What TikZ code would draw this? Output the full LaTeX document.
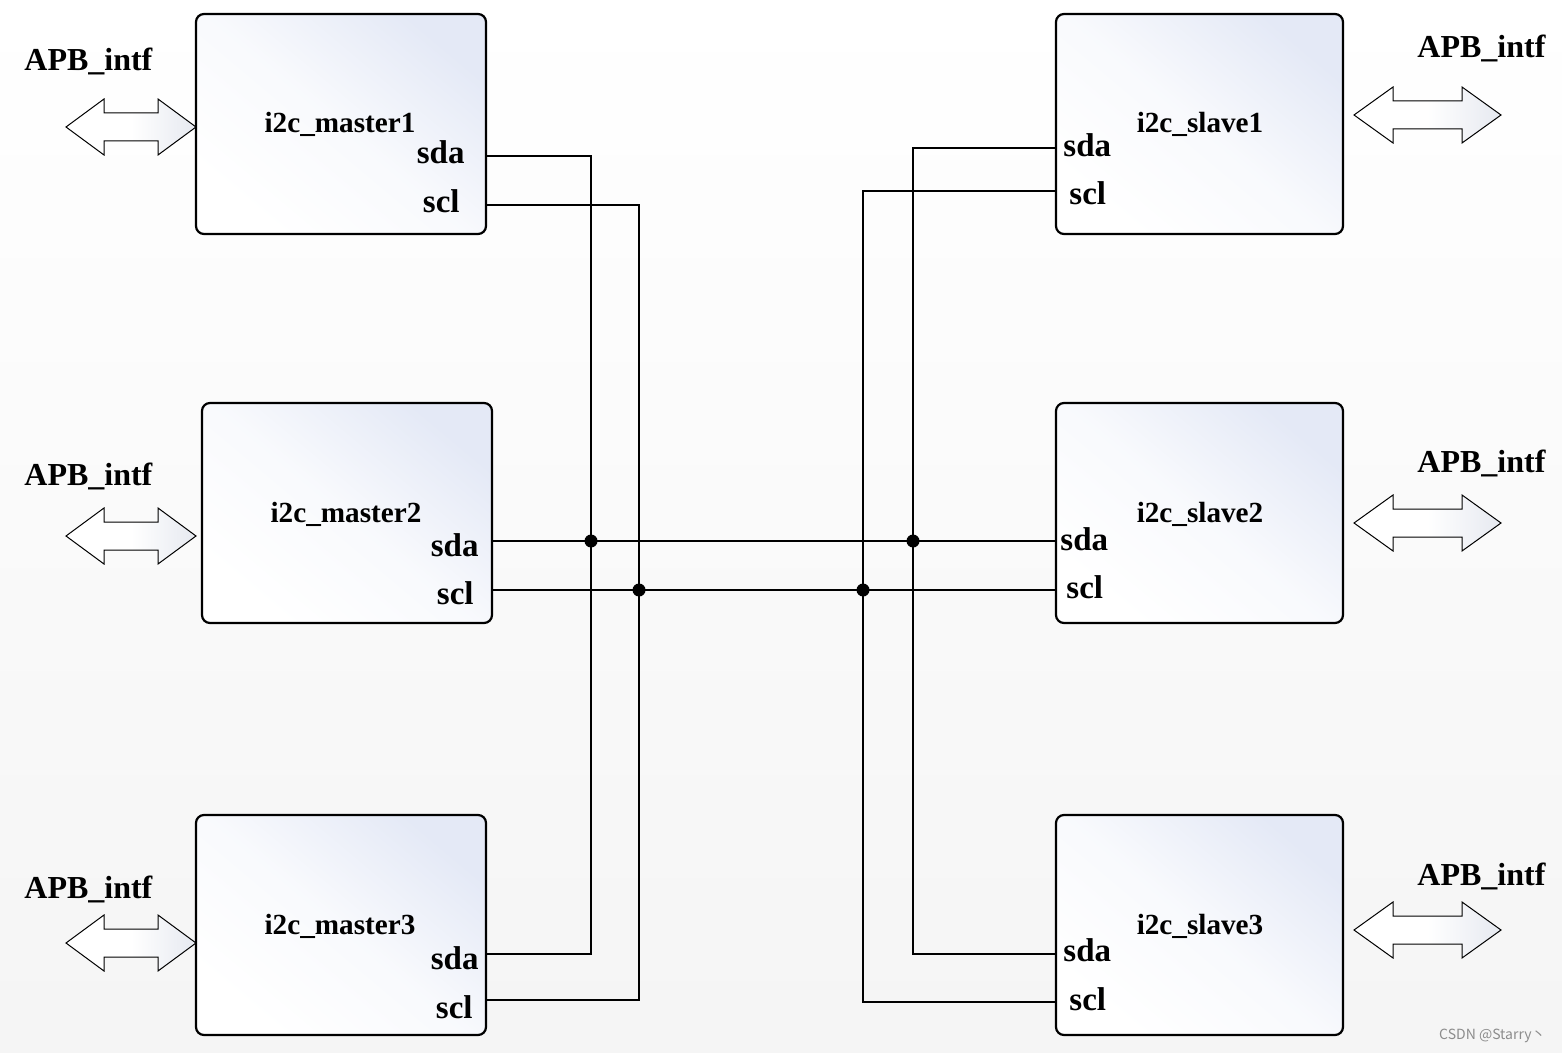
\documentclass[tikz,border=0pt]{standalone}
\usepackage{fontspec}
\setmainfont{Liberation Serif}
\newfontfamily\wmfont{Noto Sans CJK SC}
\begin{document}
\begin{tikzpicture}[x=0.5pt,y=-0.5pt,
  blk/.style={draw=black, line width=1.1pt, rounded corners=4pt, shade,
    top color=boxblue, bottom color=white, middle color=boxblue!25!white, shading angle=-40,
    minimum height=110pt, inner sep=0pt},
  wire/.style={line width=1pt, black},
  dot/.style={circle, fill=black, inner sep=0pt, minimum size=6.5pt},
  title/.style={font=\fontsize{14.6}{16}\selectfont\bfseries, inner sep=0pt},
  port/.style={font=\fontsize{16.5}{18}\selectfont\bfseries, inner sep=0pt},
  apb/.style={font=\fontsize{16}{18}\selectfont\bfseries, inner sep=0pt},
  darr/.style={draw=black, line width=0.5pt, left color=white, right color=arrgray, middle color=white}
]
\definecolor{boxblue}{RGB}{228,233,246}
\definecolor{arrgray}{RGB}{230,233,240}
\useasboundingbox (0,0) rectangle (1562,1053);
\shade[top color=white, bottom color=black!4] (0,0) rectangle (1562,1053);

% double arrows
\newcommand\dblarr[4]{% x0, x1, cy, head length
  \path[darr] (#1,#3) -- ({#1+#4},{#3-28}) -- ({#1+#4},{#3-14}) -- ({#2-#4},{#3-14})
   -- ({#2-#4},{#3-28}) -- (#2,#3) -- ({#2-#4},{#3+28}) -- ({#2-#4},{#3+14})
   -- ({#1+#4},{#3+14}) -- ({#1+#4},{#3+28}) -- cycle;}
\dblarr{66}{196}{127}{38}
\dblarr{66}{196}{536}{38}
\dblarr{66}{196}{943}{38}
\dblarr{1354}{1501}{115}{39}
\dblarr{1354}{1501}{523}{39}
\dblarr{1354}{1501}{930}{39}

% blocks
\node[blk, minimum width=145pt] (m1) at (341,124) {};
\node[blk, minimum width=145pt] (m2) at (347,513) {};
\node[blk, minimum width=145pt] (m3) at (341,925) {};
\node[blk, minimum width=143.5pt] (s1) at (1199.5,124) {};
\node[blk, minimum width=143.5pt] (s2) at (1199.5,513) {};
\node[blk, minimum width=143.5pt] (s3) at (1199.5,925) {};

% titles
\node[title, anchor=base] (tm1) at (340,133) {i2c\_master1};
\node[title, anchor=base] (tm2) at (346,522) {i2c\_master2};
\node[title, anchor=base] (tm3) at (340,934) {i2c\_master3};
\node[title, anchor=base] (ts1) at (1200,133) {i2c\_slave1};
\node[title, anchor=base] (ts2) at (1200,522) {i2c\_slave2};
\node[title, anchor=base] (ts3) at (1200,934) {i2c\_slave3};

% port labels
\node[port, anchor=base east] (lm1a) at (465,164) {sda};
\node[port, anchor=base east] (lm1c) at (460,213) {scl};
\node[port, anchor=base east] (lm2a) at (479,556) {sda};
\node[port, anchor=base east] (lm2c) at (474,604) {scl};
\node[port, anchor=base east] (lm3a) at (479,969) {sda};
\node[port, anchor=base east] (lm3c) at (473,1018) {scl};
\node[port, anchor=base west] (ls1a) at (1063,157) {sda};
\node[port, anchor=base west] (ls1c) at (1069,205) {scl};
\node[port, anchor=base west] (ls2a) at (1060,550) {sda};
\node[port, anchor=base west] (ls2c) at (1066,598) {scl};
\node[port, anchor=base west] (ls3a) at (1063,961) {sda};
\node[port, anchor=base west] (ls3c) at (1069,1010) {scl};

% APB labels
\node[apb, anchor=base west] (al1) at (24,71) {APB\_intf};
\node[apb, anchor=base west] (al2) at (24,485) {APB\_intf};
\node[apb, anchor=base west] (al3) at (24,898) {APB\_intf};
\node[apb, anchor=base west] (ar1) at (1417,58) {APB\_intf};
\node[apb, anchor=base west] (ar2) at (1417,472) {APB\_intf};
\node[apb, anchor=base west] (ar3) at (1417,885) {APB\_intf};

% port coordinates
\coordinate (m1sda) at (m1.east |- 0,156);
\coordinate (m1scl) at (m1.east |- 0,205);
\coordinate (m2sda) at (m2.east |- 0,541);
\coordinate (m2scl) at (m2.east |- 0,590);
\coordinate (m3sda) at (m3.east |- 0,954);
\coordinate (m3scl) at (m3.east |- 0,1000);
\coordinate (s1sda) at (s1.west |- 0,148);
\coordinate (s1scl) at (s1.west |- 0,191);
\coordinate (s2sda) at (s2.west |- 0,541);
\coordinate (s2scl) at (s2.west |- 0,590);
\coordinate (s3sda) at (s3.west |- 0,954);
\coordinate (s3scl) at (s3.west |- 0,1002);
\coordinate (jA) at (591,541);
\coordinate (jB) at (639,590);
\coordinate (jC) at (913,541);
\coordinate (jD) at (863,590);

% wires
\draw[wire] (m1sda) -| (jA) |- (m3sda);
\draw[wire] (m1scl) -| (jB) |- (m3scl);
\draw[wire] (s1sda) -| (jC) |- (s3sda);
\draw[wire] (s1scl) -| (jD) |- (s3scl);
\draw[wire] (m2sda) -- (s2sda);
\draw[wire] (m2scl) -- (s2scl);
\foreach \j in {jA,jB,jC,jD} \node[dot] at (\j) {};

% watermark
\node[font=\wmfont\fontsize{7}{8}\selectfont, text=black!45, anchor=east, inner sep=0pt] (wm) at (1546,1036) {CSDN @Starry丶};
\end{tikzpicture}
\end{document}
